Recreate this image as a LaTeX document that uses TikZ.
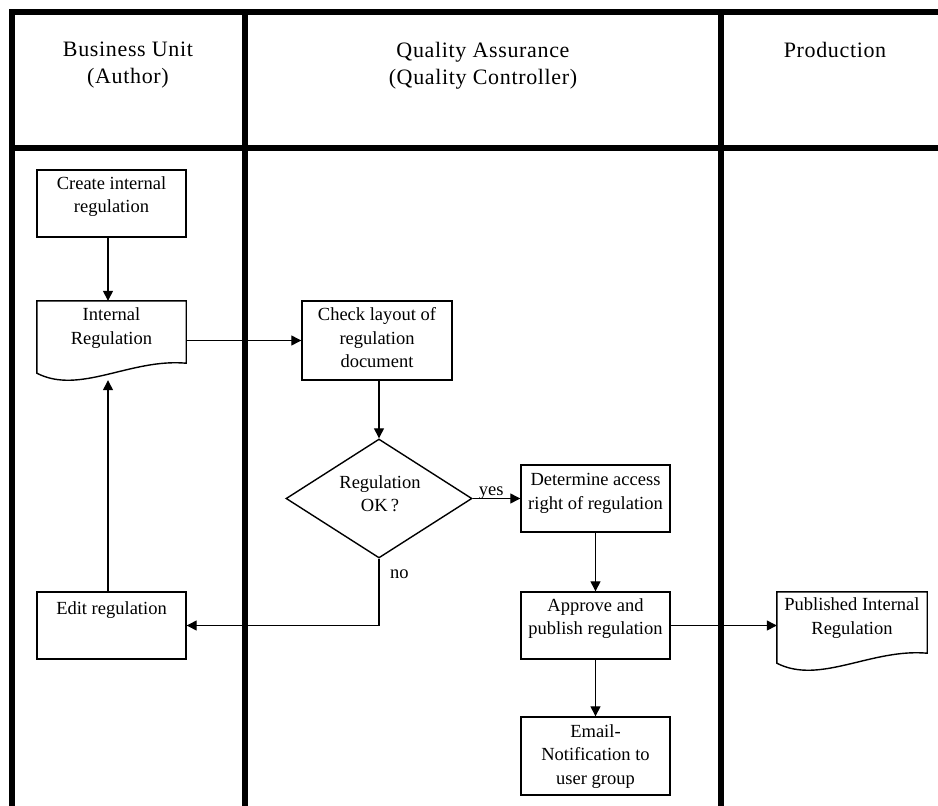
\documentclass[tikz,border=0pt]{standalone}
\usepackage{fontspec}
\setmainfont{Liberation Serif}
\newfontfamily\headfont{Liberation Serif}[LetterSpace=3]
\usetikzlibrary{arrows.meta,shapes.geometric,calc}

\begin{document}
\begin{tikzpicture}[x=1pt,y=-1pt,
  lane/.style={line width=6.5pt, line join=miter},
  box/.style={draw, line width=1.4pt, rectangle, inner sep=0pt},
  docbox/.style={draw=none, rectangle, inner sep=0pt},
  docline/.style={line width=1.4pt, line join=miter},
  decision/.style={draw, line width=1.4pt, diamond, inner sep=0pt},
  boxtext/.style={anchor=north, align=center, inner sep=0pt,
    font=\fontsize{18.5}{23.5}\selectfont},
  lbl/.style={inner sep=0pt, font=\fontsize{18.5}{23.5}\selectfont},
  head/.style={anchor=north, align=center, inner sep=0pt,
    font=\headfont\fontsize{22}{27}\selectfont},
  flow/.style={line width=1.3pt, -{Triangle[length=10pt,width=10pt]}},
  wire/.style={line width=1.3pt}
]
\useasboundingbox (0,0) rectangle (938,806);

% swimlane frame
\draw[lane] (938,12) -- (12,12) -- (12,806);
\draw[lane] (12,148) -- (938,148);
\draw[lane] (245,12) -- (245,806);
\draw[lane] (721,12) -- (721,806);

% lane headings
\node[head] (hbu) at (128,42) {Business Unit\\(Author)};
\node[head] (hqa) at (483,42) {Quality Assurance\\(Quality Controller)};
\node[head] (hpr) at (835,42) {Production};

% process boxes
\node[box, minimum width=149, minimum height=67] (create) at (111.5,203.5) {};
\node[boxtext] (createt) at ([yshift=-7pt]create.north) {Create internal\\regulation};

\node[docbox, minimum width=149, minimum height=72] (intreg) at (111.5,337) {};
\draw[docline] (intreg.north west) -- (intreg.north east)
  -- ($(intreg.south east)+(0,-10)$)
  .. controls ($(intreg.south east)+(-56,-15)$) and ($(intreg.south west)+(43,22)$) .. (intreg.south west)
  -- cycle;
\node[boxtext] (intregt) at ([yshift=-7pt]intreg.north) {Internal\\Regulation};

\node[box, minimum width=150, minimum height=79] (check) at (377,340.5) {};
\node[boxtext] (checkt) at ([yshift=-7pt]check.north) {Check layout of\\regulation\\document};

\node[decision, minimum width=186, minimum height=119] (dec) at (379,498.5) {};
\node[boxtext] (dect) at (380,475) {Regulation\\OK\,?};

\node[box, minimum width=149, minimum height=67] (determine) at (595.5,498.5) {};
\node[boxtext] (determinet) at ([yshift=-9pt]determine.north) {Determine access\\right of regulation};

\node[box, minimum width=149, minimum height=67] (edit) at (111.5,625.5) {};
\node[boxtext] (editt) at ([yshift=-10pt]edit.north) {Edit regulation};

\node[box, minimum width=149, minimum height=67] (approve) at (595.5,625.5) {};
\node[boxtext] (approvet) at ([yshift=-7pt]approve.north) {Approve and\\publish regulation};

\node[docbox, minimum width=150, minimum height=71] (pub) at (852,627.5) {};
\draw[docline] (pub.north west) -- (pub.north east)
  -- ($(pub.south east)+(0,-10)$)
  .. controls ($(pub.south east)+(-56,-15)$) and ($(pub.south west)+(43,22)$) .. (pub.south west)
  -- cycle;
\node[boxtext] (pubt) at ([yshift=-6pt]pub.north) {Published Internal\\Regulation};

\node[box, minimum width=149, minimum height=78] (email) at (595.5,756) {};
\node[boxtext] (emailt) at ([yshift=-8pt]email.north) {Email-\\Notification to\\user group};

% connectors
\draw[flow] ([xshift=-3.5pt]create.south) -- ([xshift=-3.5pt]intreg.north);
\draw[flow] ([xshift=-3.5pt]edit.north) -- ([xshift=-3.5pt,yshift=-7pt]intreg.south);
\draw[flow] (intreg.east |- check.west) -- (check.west);
\draw[flow] (check.south -| dec.north) -- (dec.north);
\draw[flow] (dec.east) -- (determine.west);
\draw[flow] (dec.south) |- (edit.east);
\draw[flow] (determine.south) -- (approve.north);
\draw[flow] (approve.east) -- (approve.east -| pub.west);
\draw[flow] (approve.south) -- (email.north);

% branch labels
\node[lbl, anchor=base west] (yes) at ([xshift=6pt,yshift=3pt]dec.east) {yes};
\node[lbl, anchor=base west] (no) at (390,578) {no};
\end{tikzpicture}
\end{document}
